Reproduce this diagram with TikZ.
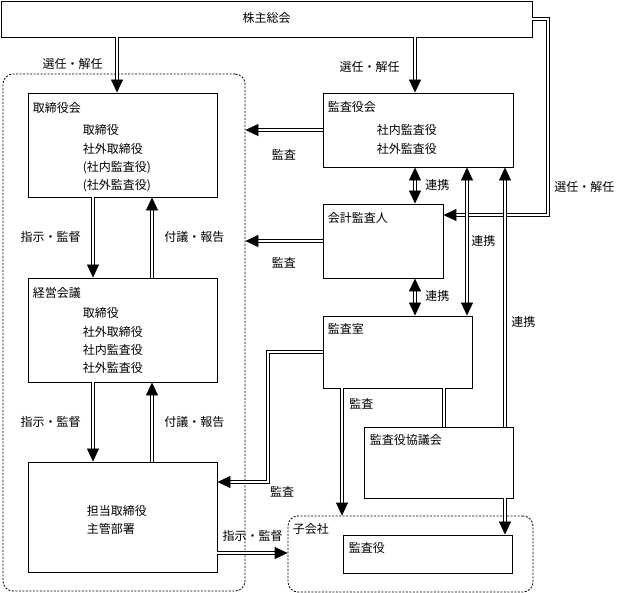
\documentclass[tikz,border=0pt]{standalone}
\usepackage{fontspec}
\setmainfont{Noto Sans CJK JP}
\usetikzlibrary{positioning}
\usetikzlibrary{arrows.meta}
\tikzset{box/.style={draw, line width=0.9pt, fill=white, inner sep=0pt}}
\tikzset{grp/.style={draw, line width=0.8pt, dash pattern=on 2pt off 1.5pt, rounded corners=10pt, inner sep=0pt}}
\tikzset{ttl/.style={inner sep=0pt, text height=10pt, text depth=2pt}}
\tikzset{body/.style={inner sep=0pt, align=left}}
\tikzset{dbl/.style={double, double distance=2.2pt, line width=0.8pt}}
\tikzset{dblarr/.style={dbl, -{Triangle[length=13pt, width=12pt]}}}
\tikzset{dblboth/.style={dbl, {Triangle[length=13pt, width=12pt]}-{Triangle[length=13pt, width=12pt]}}}

\begin{document}
\begin{tikzpicture}[x=1pt, y=-1pt, font=\fontsize{12}{18.3}\selectfont]
    \useasboundingbox (0,0) rectangle (623,593);

    % groups
    \node[grp, minimum width=242pt, minimum height=517pt] (GRP) at (124,332.5) {};
    \node[grp, minimum width=245pt, minimum height=76pt] (KOGAI) at (410.5,554) {};
    \node[ttl, below right=8pt and 5pt of KOGAI.north west] (KOGAIt) {子会社};

    % boxes
    \node[box, minimum width=531pt, minimum height=36pt] (KABU) at (266.5,19) {};
    \node[ttl] (KABUt) at (KABU.center) {株主総会};

    \node[box, minimum width=189pt, minimum height=104pt] (TOR) at (122.5,145) {};
    \node[ttl, below right=10pt and 5pt of TOR.north west] (TORt) {取締役会};
    \node[body, below right=32pt and 55pt of TOR.north west] (TORb)
        {取締役\\社外取締役\\(社内監査役)\\(社外監査役)};

    \node[box, minimum width=189pt, minimum height=104pt] (KEIEI) at (122.5,330) {};
    \node[ttl, below right=10pt and 5pt of KEIEI.north west] (KEIEIt) {経営会議};
    \node[body, below right=30pt and 55pt of KEIEI.north west] (KEIEIb)
        {取締役\\社外取締役\\社内監査役\\社外監査役};

    \node[box, minimum width=189pt, minimum height=110pt] (TANTO) at (122.5,517) {};
    \node[body, right=59pt of TANTO.west, yshift=-3pt] (TANTOb) {担当取締役\\主管部署};

    \node[box, minimum width=190pt, minimum height=74pt] (KANSA) at (418,130) {};
    \node[ttl, below right=9pt and 5pt of KANSA.north west] (KANSAt) {監査役会};
    \node[body, below right=32pt and 54pt of KANSA.north west] (KANSAb)
        {社内監査役\\社外監査役};

    \node[box, minimum width=120pt, minimum height=74pt] (KAIKEI) at (383,241) {};
    \node[ttl, below right=9pt and 5pt of KAIKEI.north west] (KAIKEIt) {会計監査人};

    \node[box, minimum width=149pt, minimum height=72pt] (SHITSU) at (397.5,352) {};
    \node[ttl, below right=8pt and 5pt of SHITSU.north west] (SHITSUt) {監査室};

    \node[box, minimum width=149pt, minimum height=71pt] (KYOGI) at (438.5,462.5) {};
    \node[ttl, below right=8pt and 6pt of KYOGI.north west] (KYOGIt) {監査役協議会};

    \node[box, minimum width=169pt, minimum height=38pt] (KOKANSA) at (427.5,554) {};
    \node[ttl, below right=8pt and 6pt of KOKANSA.north west] (KOKANSAt) {監査役};

    % columns and corners for the connectors
    \coordinate (cA) at (117,0);
    \coordinate (cB) at (415,0);
    \coordinate (cD) at (467,0);
    \coordinate (cE) at (505,0);
    \coordinate (cF) at (444,0);
    \coordinate (cG) at (342,0);
    \coordinate (cH) at (93,0);
    \coordinate (cI) at (152,0);
    \coordinate (cR) at (548,215);
    \coordinate (cK) at (268,482);
    \coordinate (cN) at (0,553);

    % 選任・解任
    \draw[dblarr] (KABU.south -| cA) -- (TOR.north -| cA)
        node[midway, ttl, left=14pt] (lSel1) {選任・解任};
    \draw[dblarr] (KABU.south -| cB) -- (KANSA.north -| cB)
        node[pos=0.55, ttl, left=15pt] (lSel2) {選任・解任};
    \draw[dblarr] (KABU.east) -| (cR)
        node[pos=0.93, ttl, right=6pt] (lSel3) {選任・解任}
        -- (KAIKEI.east |- cR);

    % 監査
    \draw[dblarr] (KANSA.west) -- (GRP.east |- KANSA.west)
        node[midway, ttl, below=19pt] (lKan1) {監査};
    \draw[dblarr] (KAIKEI.west) -- (GRP.east |- KAIKEI.west)
        node[midway, ttl, below=16pt] (lKan2) {監査};
    \draw[dblarr] (SHITSU.west) -| (cK) -- (TANTO.east |- cK);
    \node[ttl, below right=4pt and 2pt of cK] (lKan3) {監査};
    \draw[dblarr] (SHITSU.south -| cG) -- (KOGAI.north -| cG)
        node[pos=0.13, ttl, right=7pt] (lKan4) {監査};

    % 連携
    \draw[dblboth] (KANSA.south -| cB) -- (KAIKEI.north -| cB)
        node[midway, ttl, right=10pt] (lRen1) {連携};
    \draw[dblboth] (KAIKEI.south -| cB) -- (SHITSU.north -| cB)
        node[midway, ttl, right=10pt] (lRen2) {連携};
    \draw[dblboth] (KANSA.south -| cD) -- (SHITSU.north -| cD)
        node[midway, ttl, right=4pt] (lRen3) {連携};
    \draw[dblarr] (KYOGI.north -| cE) -- (KANSA.south -| cE)
        node[pos=0.4, ttl, right=6pt] (lRen4) {連携};
    \draw[dblarr] (KYOGI.south -| cE) -- (KOKANSA.north -| cE);
    \draw[dbl] (SHITSU.south -| cF) -- (KYOGI.north -| cF);

    % 指示・監督 / 付議・報告
    \draw[dblarr] (TOR.south -| cH) -- (KEIEI.north -| cH)
        node[midway, ttl, left=12pt] (lShi1) {指示・監督};
    \draw[dblarr] (KEIEI.north -| cI) -- (TOR.south -| cI)
        node[midway, ttl, right=12pt] (lFu1) {付議・報告};
    \draw[dblarr] (KEIEI.south -| cH) -- (TANTO.north -| cH)
        node[midway, ttl, left=12pt] (lShi2) {指示・監督};
    \draw[dblarr] (TANTO.north -| cI) -- (KEIEI.south -| cI)
        node[midway, ttl, right=12pt] (lFu2) {付議・報告};
    \draw[dblarr] (TANTO.east |- cN) -- (KOGAI.west |- cN)
        node[midway, ttl, above=10pt] (lShi3) {指示・監督};

    % \draw[help lines] (0,0) grid[step=50] (623,593);
\end{tikzpicture}
\end{document}
